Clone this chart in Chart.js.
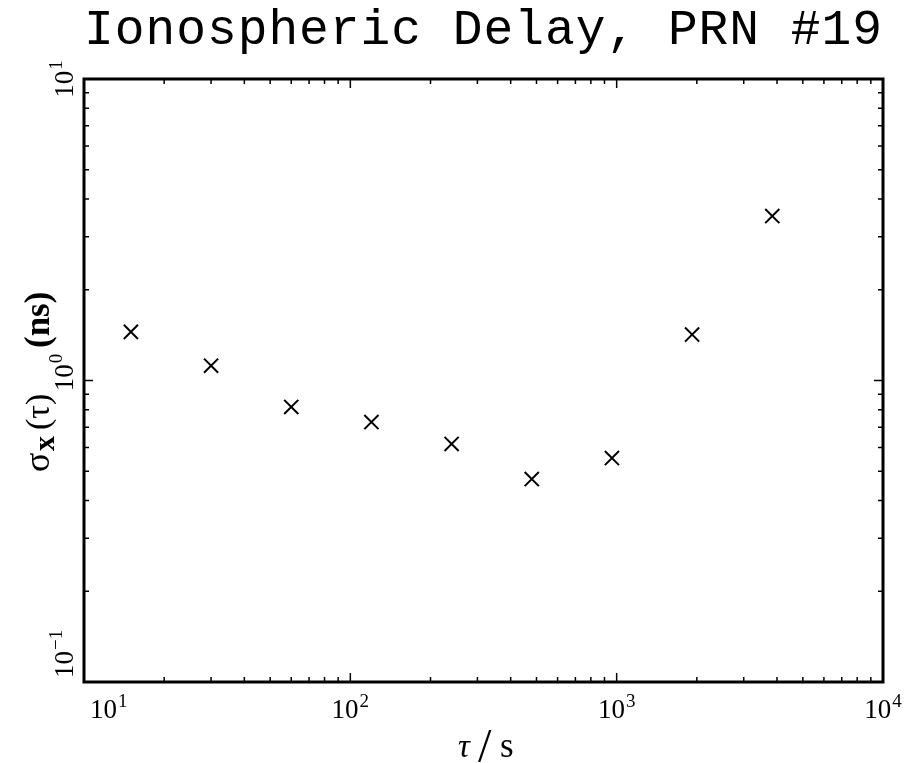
<!DOCTYPE html>
<html>
<head>
<meta charset="utf-8">
<script src="https://cdn.jsdelivr.net/npm/chart.js@4/dist/chart.umd.min.js"></script>
<style>
html, body { margin: 0; padding: 0; background: #fff; }
#wrap { width: 908px; height: 763px; position: relative; }
</style>
</head>
<body>
<div id="wrap"><canvas id="c"></canvas></div>
<script>
// averaging time (s) and sigma_x (ns)
const tau = [15, 30, 60, 120, 240, 480, 960, 1920, 3840];
const sigma = [1.45, 1.12, 0.817, 0.728, 0.616, 0.471, 0.553, 1.42, 3.51];
const xTickExps = [1, 2, 3, 4];
const yTickExps = [-1, 0, 1];
const titleText = 'Ionospheric Delay, PRN #19';

const serif = '"Liberation Serif", "Times New Roman", serif';

// "10" with a raised exponent, drawn along the current baseline
function drawPower(ctx, exp, x, y, align) {
    const base = '10';
    const sup = exp < 0 ? '\u2212' + Math.abs(exp) : String(exp);
    ctx.font = '27px ' + serif;
    const w1 = ctx.measureText(base).width;
    ctx.font = '19px ' + serif;
    const w2 = ctx.measureText(sup).width;
    let start = x;
    if (align === 'center') start = x - (w1 + w2 + 1) / 2;
    ctx.fillStyle = '#000';
    ctx.textAlign = 'left';
    ctx.textBaseline = 'alphabetic';
    ctx.font = '27px ' + serif;
    ctx.fillText(base, start, y);
    ctx.font = '19px ' + serif;
    ctx.fillText(sup, start + w1 + 1, y - 11);
}

// wide typewriter look for the title
const spacingPlugin = {
    id: 'spacing',
    beforeDraw(chart) { chart.ctx.letterSpacing = '1px'; },
    beforeDatasetsDraw(chart) { chart.ctx.letterSpacing = '0px'; },
};

const framePlugin = {
    id: 'frame',
    afterDatasetsDraw(chart) {
        const { ctx, chartArea: a } = chart;
        const xs = chart.scales.x, ys = chart.scales.y;
        ctx.save();
        ctx.strokeStyle = '#000';
        ctx.lineWidth = 1.5;
        ctx.beginPath();
        for (let e = 1; e < 4; e++) {
            for (let m = 1; m < 10; m++) {
                const px = xs.getPixelForValue(m * Math.pow(10, e));
                const len = m === 1 ? 9 : 5;
                ctx.moveTo(px, a.bottom); ctx.lineTo(px, a.bottom - len);
                ctx.moveTo(px, a.top); ctx.lineTo(px, a.top + len);
            }
        }
        for (let e = -1; e < 1; e++) {
            for (let m = 1; m < 10; m++) {
                const py = ys.getPixelForValue(m * Math.pow(10, e));
                const len = m === 1 ? 9 : 5;
                ctx.moveTo(a.left, py); ctx.lineTo(a.left + len, py);
                ctx.moveTo(a.right, py); ctx.lineTo(a.right - len, py);
            }
        }
        ctx.stroke();
        ctx.lineWidth = 3;
        ctx.strokeRect(a.left, a.top, a.right - a.left, a.bottom - a.top);
        ctx.restore();
    }
};

const labelPlugin = {
    id: 'labels',
    afterDraw(chart) {
        const { ctx, chartArea: a } = chart;
        const xs = chart.scales.x, ys = chart.scales.y;
        ctx.save();
        ctx.letterSpacing = '0px';
        // x tick labels
        xTickExps.forEach((e, i) => {
            const px = xs.getPixelForValue(Math.pow(10, e));
            if (i === 0) drawPower(ctx, e, px + 6, a.bottom + 36, 'left');
            else drawPower(ctx, e, px, a.bottom + 36, 'center');
        });
        // y tick labels, rotated
        yTickExps.forEach((e, i) => {
            const py = ys.getPixelForValue(Math.pow(10, e));
            ctx.save();
            ctx.translate(73, py);
            ctx.rotate(-Math.PI / 2);
            if (i === 0) drawPower(ctx, e, 4, 0, 'left');
            else drawPower(ctx, e, e === 0 ? 8 : 0, 0, 'center');
            ctx.restore();
        });
        // x axis title
        ctx.fillStyle = '#000';
        ctx.textBaseline = 'alphabetic';
        ctx.textAlign = 'left';
        ctx.font = 'italic 33px ' + serif;
        ctx.fillText('\u03C4', 458, 757);
        ctx.font = '48px ' + serif;
        ctx.fillText('/', 478, 762);
        ctx.font = '35px ' + serif;
        ctx.fillText('s', 500, 757);
        // y axis title, rotated
        ctx.save();
        ctx.translate(49, 472);
        ctx.rotate(-Math.PI / 2);
        ctx.font = '36px ' + serif;
        ctx.fillText('\u03C3', 0, 0);
        ctx.font = 'bold 30px ' + serif;
        ctx.fillText('x', 21, 5);
        ctx.font = '34px ' + serif;
        ctx.fillText('(\u03C4)', 42, 0);
        ctx.font = 'bold 35px ' + serif;
        ctx.fillText('(ns)', 124, 0);
        ctx.restore();
        ctx.restore();
    }
};

new Chart(document.getElementById('c'), {
    type: 'scatter',
    data: {
        datasets: [
            {
                data: tau.map((t, i) => ({ x: t, y: sigma[i] })),
                pointStyle: 'crossRot',
                pointRadius: 10,
                pointHoverRadius: 10,
                borderColor: '#000',
                backgroundColor: '#000',
                borderWidth: 2,
            },
        ],
    },
    options: {
        responsive: true,
        maintainAspectRatio: false,
        animation: false,
        layout: { padding: { left: 0, right: 25, top: 0, bottom: 0 } },
        plugins: {
            legend: { display: false },
            tooltip: { enabled: false },
            title: {
                display: true,
                fullSize: false,
                text: titleText,
                color: '#000',
                font: { family: '"Liberation Mono", "Courier New", monospace', size: 50, weight: 'normal', lineHeight: 1 },
                padding: { top: 6, bottom: 23 },
            },
        },
        scales: {
            x: {
                type: 'logarithmic',
                min: 10,
                max: 10000,
                grid: { display: false },
                border: { display: false },
                ticks: { display: false },
                afterFit: (s) => { s.height = 81; },
            },
            y: {
                type: 'logarithmic',
                min: 0.1,
                max: 10,
                grid: { display: false },
                border: { display: false },
                ticks: { display: false },
                afterFit: (s) => { s.width = 84; },
            },
        },
    },
    plugins: [spacingPlugin, framePlugin, labelPlugin],
});
</script>
</body>
</html>
